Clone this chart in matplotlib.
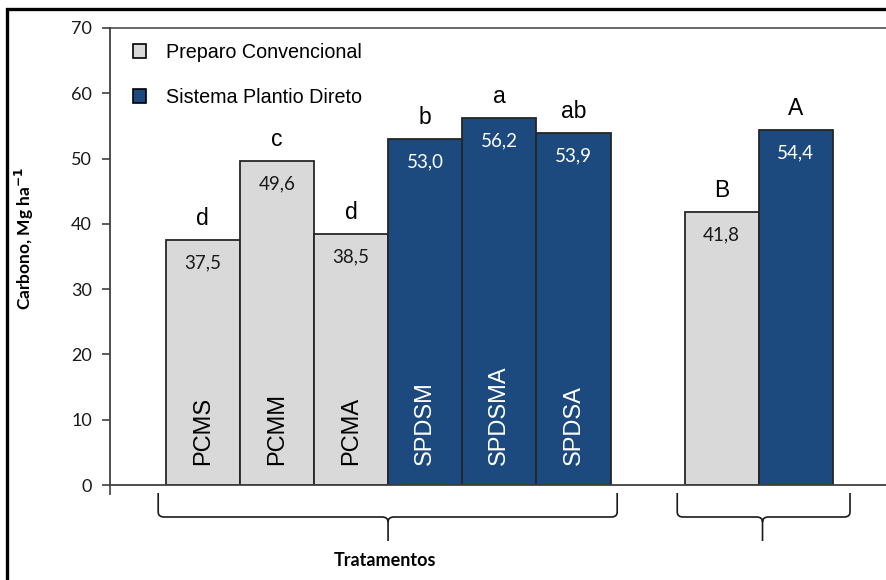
import numpy as np
import matplotlib
matplotlib.use("Agg")
import matplotlib.pyplot as plt
import matplotlib.transforms as mtransforms
from matplotlib.path import Path
from matplotlib.patches import PathPatch, Patch, Rectangle

# ---- data ----
treatments = ["PCMS", "PCMM", "PCMA", "SPDSM", "SPDSMA", "SPDSA"]
treat_values = [37.5, 49.6, 38.5, 53.0, 56.2, 53.9]
treat_letters = ["d", "c", "d", "b", "a", "ab"]
treat_system = ["PC", "PC", "PC", "SPD", "SPD", "SPD"]
system_values = [41.8, 54.4]
system_letters = ["B", "A"]
system_names = ["PC", "SPD"]
legend_labels = ["Preparo Convencional", "Sistema Plantio Direto"]
yticks = [0, 10, 20, 30, 40, 50, 60, 70]

GRAY = "#d9d9d9"
BLUE = "#1d4a7e"
colors = {"PC": GRAY, "SPD": BLUE}
EDGE = "#262626"

W, H = 887, 580
fig = plt.figure(figsize=(W / 100, H / 100), dpi=100)
ax = fig.add_axes([110 / W, (580 - 485) / H, (W - 110) / W, (485 - 28) / H])

x1 = np.arange(len(treatments)) + 1.25
x2 = np.array([8.25, 9.25])

ax.bar(x1, treat_values, width=1.0, color=[colors[s] for s in treat_system],
       edgecolor=EDGE, linewidth=1.3, zorder=2)
ax.bar(x2, system_values, width=1.0, color=[colors[s] for s in system_names],
       edgecolor=EDGE, linewidth=1.3, zorder=2)

ax.set_xlim(0, (W - 110) / 74.15)
ax.set_ylim(0, 70)
ax.set_yticks(yticks)
ax.set_yticklabels([str(v) for v in yticks], fontsize=13, family="Lato", color="#1a1a1a")
ax.set_xticks([0])
ax.set_xticklabels([""])
ax.tick_params(axis="y", length=6, width=1.2, color="#404040", pad=7)
ax.tick_params(axis="x", length=7, width=1.2, color="#404040")

for s in ["left", "bottom"]:
    ax.spines[s].set_color("#404040")
    ax.spines[s].set_linewidth(1.3)
ax.spines["top"].set_color("#404040")
ax.spines["top"].set_linewidth(1.1)
ax.spines["right"].set_visible(False)

px = 70 / 457.0  # data units per pixel vertically

def annotate(xs, vals, letters, names):
    for x, v, l, n, in zip(xs, vals, letters, names):
        ax.text(x, v + 15 * px, l, ha="center", va="baseline", fontsize=16.5,
                family="Liberation Sans", color="#000000")
        tc = "white" if n == "SPD" else "#1a1a1a"
        ax.text(x, v - 23 * px, f"{v:.1f}".replace(".", ","), ha="center", va="center",
                fontsize=13.5, family="Lato", color=tc)

annotate(x1, treat_values, treat_letters, treat_system)
annotate(x2, system_values, system_letters, system_names)

for x, name, s in zip(x1, treatments, treat_system):
    ax.text(x, 20 * px, name, rotation=90, ha="center", va="bottom", fontsize=17,
            family="Liberation Sans", color="white" if s == "SPD" else "#000000")

# legend
handles = [Patch(facecolor=GRAY, edgecolor="#000000", linewidth=1.2),
           Patch(facecolor=BLUE, edgecolor="#000000", linewidth=1.2)]
leg = ax.legend(handles, legend_labels, loc="upper left", bbox_to_anchor=(0.029, 0.967),
                frameon=False, borderpad=0, borderaxespad=0, handlelength=0.68,
                handleheight=0.68, handletextpad=1.0, labelspacing=1.3,
                prop={"family": "Liberation Sans", "size": 14.2})

# braces
trans = mtransforms.blended_transform_factory(ax.transData, fig.transFigure)

def brace(xa, xb, xc):
    yt = 1 - 493 / H
    yh = 1 - 517 / H
    ytip = 1 - 541 / H
    rx = 0.08
    ry = 5 / H
    verts = [(xa, yt), (xa, yh + ry), (xa, yh), (xa + rx, yh), (xc - rx, yh), (xc, yh), (xc, yh - ry),
             (xc, ytip),
             (xc, yh - ry), (xc, yh), (xc + rx, yh), (xb - rx, yh), (xb, yh), (xb, yh + ry), (xb, yt)]
    codes = [Path.MOVETO, Path.LINETO, Path.CURVE3, Path.CURVE3, Path.LINETO, Path.CURVE3, Path.CURVE3,
             Path.LINETO,
             Path.MOVETO, Path.CURVE3, Path.CURVE3, Path.LINETO, Path.CURVE3, Path.CURVE3, Path.LINETO]
    p = PathPatch(Path(verts, codes), transform=trans, fill=False, edgecolor="#1a1a1a",
                  linewidth=1.2, clip_on=False)
    fig.add_artist(p)

brace(x1[0] - 0.5 - 0.1, x1[-1] + 0.5 + 0.09, (x1[0] + x1[-1]) / 2)
brace(x2[0] - 0.5 - 0.1, x2[-1] + 0.5 + 0.23, (x2[0] + x2[-1]) / 2 + 0.05)

fig.text(385 / W, 1 - 560 / H, "Tratamentos", ha="center", va="center", fontsize=13,
         family="Lato", fontweight="bold")
fig.text(24 / W, 1 - 238 / H, "Carbono, Mg ha$^{\\mathbf{-1}}$", ha="center", va="center",
         rotation=90, fontsize=12.5, family="Lato", fontweight="bold")

# outer frame (cropped)
fig.add_artist(Rectangle((7.5 / W, -0.1), 1.2, 1.1 - 8.5 / H, transform=fig.transFigure,
                         fill=False, edgecolor="black", linewidth=2.4))

fig.savefig("out.png", dpi=100)
